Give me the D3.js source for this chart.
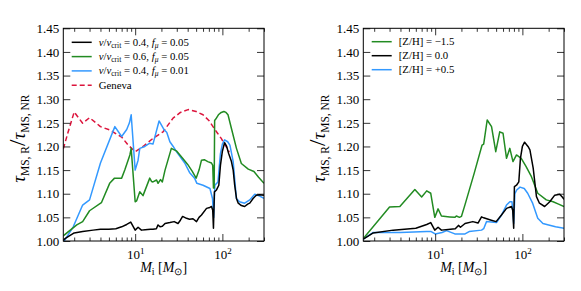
<!DOCTYPE html>
<html><head><meta charset="utf-8">
<script src="https://cdn.jsdelivr.net/npm/d3@7"></script>
<style>
body{margin:0;background:#fff;}
svg text{font-family:"Liberation Serif","Times New Roman",serif !important;fill:#000;}
</style></head>
<body><svg id="chart" width="581" height="291"></svg>
<script>
// ---------- DATA ----------
const xTicksMajor = [10, 100];
const xTicksMinor = [2,3,4,5,6,7,8,9,20,30,40,50,60,70,80,90,200,300];
const yTicks = [1.00,1.05,1.10,1.15,1.20,1.25,1.30,1.35,1.40,1.45];

// Left panel
const leftBlackM = [1.5,1.6,2.0,2.5,3.3,4.0,5.0,6.0,7.0,8.0,8.9,10.0,10.8,11.8,13,15,16,17.5,18.3,19.3,20.5,22,25,28,31,33,35,38.8,42,46,50.5,54,57.6,65.8,71.8,75,77.5,79,81,85.6,91,95,100,106,112,118,127,133,138,145,152,165,180,195,206,225,245,265,300];
const leftBlackV = [1.002,1.006,1.017,1.020,1.023,1.025,1.025,1.026,1.030,1.035,1.040,1.023,1.029,1.023,1.024,1.025,1.025,1.026,1.034,1.030,1.031,1.037,1.039,1.041,1.037,1.044,1.052,1.048,1.046,1.047,1.041,1.050,1.055,1.069,1.071,1.073,1.065,1.027,1.104,1.108,1.118,1.160,1.190,1.208,1.200,1.185,1.168,1.150,1.120,1.090,1.080,1.075,1.073,1.078,1.080,1.090,1.097,1.098,1.097];

const leftGreenM = [1.5,2.14,2.5,3.0,4.1,5.1,5.8,7.0,7.6,8.7,9.0,10.0,10.4,11.3,12.3,14.7,15.4,16.0,17.6,18.3,19.5,20.5,22,26,30,35,40,45,50,54,57.6,62,68,75,77.5,79,80.5,81.5,84,90,97,104,110,116,127,145,165,198,230,260,300];
const leftGreenV = [1.011,1.034,1.041,1.064,1.081,1.122,1.133,1.133,1.150,1.182,1.196,1.083,1.085,1.104,1.096,1.133,1.126,1.125,1.129,1.122,1.130,1.125,1.150,1.196,1.190,1.175,1.162,1.148,1.133,1.150,1.171,1.172,1.168,1.165,1.160,1.112,1.112,1.255,1.258,1.267,1.272,1.274,1.272,1.267,1.238,1.196,1.164,1.152,1.147,1.135,1.122];

const leftBlueM = [1.5,1.95,2.5,3.0,4.0,5.85,7.0,8.0,8.6,9.0,10.0,10.8,11.3,12.9,14.7,16,18.8,21.5,23,25,27.3,30,37,42,48,51,60,72,77,79.5,82,84,89,95,100,106,115,122,133,140,145,157,180,206,235,268,300];
const leftBlueV = [0.997,1.030,1.076,1.087,1.165,1.242,1.221,1.236,1.250,1.267,1.150,1.171,1.196,1.200,1.207,1.205,1.254,1.235,1.230,1.210,1.200,1.188,1.165,1.145,1.133,1.122,1.118,1.111,1.090,1.050,1.118,1.120,1.125,1.185,1.205,1.214,1.210,1.203,1.168,1.120,1.090,1.083,1.080,1.087,1.099,1.095,1.090];

const genevaM = [1.5,1.7,2.0,2.5,3.0,4.0,5.1,7.0,8.3,10.0,12.3,16,20.9,27.2,33,40.5,50,60,70,78,88,97,106,116,120];
const genevaV = [1.195,1.230,1.273,1.249,1.261,1.242,1.235,1.220,1.203,1.189,1.200,1.217,1.231,1.260,1.272,1.278,1.274,1.267,1.255,1.242,1.228,1.217,1.205,1.193,1.188];

// Right panel
const rightGreenM = [1.5,3.0,3.94,5.85,7.0,8.0,8.9,9.9,10.8,11.8,14.7,16.8,17.5,19,20,22,28,34.5,36,39.5,44.3,49.5,55,60,65.8,71.8,78,85.6,97,110,127,150,188,225,260,300];
const rightGreenV = [1.005,1.072,1.073,1.109,1.093,1.106,1.101,1.050,1.068,1.053,1.051,1.050,1.053,1.050,1.052,1.077,1.143,1.203,1.205,1.256,1.242,1.189,1.231,1.228,1.175,1.196,1.168,1.182,1.175,1.158,1.136,1.101,1.087,1.083,1.078,1.073];

const rightBlackM = [1.5,1.95,3.3,6.0,8.0,8.9,9.9,10.8,11.8,15,17,18.5,19.5,22,27,31,34,36,44,50,57.6,65.8,75,77.5,79.5,81,85.6,91,95,100,106,116,122,133,145,157,180,206,235,268,290,300];
const rightBlackV = [1.004,1.017,1.023,1.027,1.035,1.039,1.023,1.029,1.023,1.025,1.026,1.033,1.029,1.037,1.041,1.038,1.051,1.049,1.044,1.041,1.055,1.069,1.073,1.065,1.027,1.115,1.118,1.125,1.175,1.200,1.209,1.200,1.193,1.154,1.094,1.080,1.073,1.083,1.097,1.099,1.092,1.088];

const rightBlueM = [1.5,1.95,4,8,9,10,12,13.5,16.8,22,24.5,34,36,38.8,44,50.5,57.6,65.8,71.8,76,79.5,82,86,94,105,115,131,150,172,200,240,300];
const rightBlueV = [1.004,1.018,1.018,1.020,1.020,1.015,1.018,1.022,1.015,1.015,1.020,1.023,1.026,1.041,1.040,1.039,1.055,1.076,1.083,1.083,1.037,1.100,1.108,1.114,1.111,1.101,1.080,1.048,1.037,1.034,1.030,1.027];

const rightLegendLabels = ["−1.5","0.0","+0.5"];

// ---------- STYLE ----------
const COL = {black:"#000000", green:"#228B22", blue:"#3399FF", red:"#DC143C"};
const svg = d3.select("#chart");
const xDomain = [1.5, 300], yDomain = [1.0, 1.45];
const plotTop = 28.3, plotBottom = 241;

function zip(m, v){ return m.map((d,i)=>[d, v[i]]); }

function panel(x0, x1, series, id){
  const x = d3.scaleLog().domain(xDomain).range([x0, x1]);
  const y = d3.scaleLinear().domain(yDomain).range([plotBottom, plotTop]);
  const g = svg.append("g");
  g.append("clipPath").attr("id", id).append("rect")
    .attr("x", x0).attr("y", plotTop).attr("width", x1-x0).attr("height", plotBottom-plotTop);
  const line = d3.line().x(d=>x(d[0])).y(d=>y(d[1]));
  const lg = g.append("g").attr("clip-path", `url(#${id})`);
  series.forEach(s=>{
    lg.append("path").attr("d", line(s.data)).attr("fill","none")
      .attr("stroke", s.color).attr("stroke-width", 1.5)
      .attr("stroke-linejoin","round")
      .attr("stroke-dasharray", s.dash || null);
  });
  const ax = (sel)=>{ sel.select(".domain").remove(); sel.attr("font-family",null); sel.selectAll("line").attr("stroke","#000").attr("stroke-width",0.8); };
  g.append("g").attr("transform",`translate(0,${plotBottom})`)
    .call(d3.axisBottom(x).tickValues(xTicksMinor).tickFormat("").tickSizeInner(-3.5).tickSizeOuter(0)).call(ax);
  const xb = g.append("g").attr("transform",`translate(0,${plotBottom})`)
    .call(d3.axisBottom(x).tickValues(xTicksMajor).tickSizeInner(-7).tickSizeOuter(0).tickPadding(9)).call(ax);
  xb.selectAll("text").each(function(d){
    const t = d3.select(this);
    t.text("").attr("font-size", 13);
    t.append("tspan").text("10");
    t.append("tspan").text(Math.round(Math.log10(d))).attr("font-size", 9).attr("dy", -5);
  });
  g.append("g").attr("transform",`translate(0,${plotTop})`)
    .call(d3.axisTop(x).tickValues(xTicksMinor).tickFormat("").tickSizeInner(-3.5).tickSizeOuter(0)).call(ax);
  g.append("g").attr("transform",`translate(0,${plotTop})`)
    .call(d3.axisTop(x).tickValues(xTicksMajor).tickFormat("").tickSizeInner(-7).tickSizeOuter(0)).call(ax);
  const yl = g.append("g").attr("transform",`translate(${x0},0)`)
    .call(d3.axisLeft(y).tickValues(yTicks).tickFormat(d3.format(".2f")).tickSizeInner(-7).tickSizeOuter(0).tickPadding(4)).call(ax);
  yl.selectAll("text").attr("font-size", 13);
  g.append("g").attr("transform",`translate(${x1},0)`)
    .call(d3.axisRight(y).tickValues(yTicks).tickFormat("").tickSizeInner(-7).tickSizeOuter(0)).call(ax);
  g.append("rect").attr("x",x0).attr("y",plotTop).attr("width",x1-x0).attr("height",plotBottom-plotTop)
    .attr("fill","none").attr("stroke","#000").attr("stroke-width",1);
  const xt = g.append("text").attr("x",(x0+x1)/2).attr("y",272).attr("text-anchor","middle").attr("font-size",14);
  xt.append("tspan").text("M").attr("font-style","italic");
  xt.append("tspan").text("i").attr("font-size",10).attr("dy",3);
  xt.append("tspan").text(" [").attr("dy",-3);
  xt.append("tspan").text("M").attr("font-style","italic");
  xt.append("tspan").text("⊙").attr("font-size",10).attr("dy",3);
  xt.append("tspan").text("]").attr("dy",-3);
  const yt = g.append("text").attr("transform",`translate(${x0-38},${(plotTop+plotBottom)/2 + 4}) rotate(-90)`)
    .attr("text-anchor","middle").attr("font-size",19);
  yt.append("tspan").text("τ").attr("font-style","italic");
  yt.append("tspan").text("MS, R").attr("font-size",11.5).attr("dy",4);
  yt.append("tspan").text("/").attr("dy",-4).attr("font-size",23);
  yt.append("tspan").text("τ").attr("font-style","italic").attr("font-size",19);
  yt.append("tspan").text("MS, NR").attr("font-size",11.5).attr("dy",4);
  return {x, y, g};
}

panel(63.3, 264, [
  {data: zip(genevaM, genevaV), color: COL.red, dash: "5,3"},
  {data: zip(leftBlueM, leftBlueV), color: COL.blue},
  {data: zip(leftGreenM, leftGreenV), color: COL.green},
  {data: zip(leftBlackM, leftBlackV), color: COL.black}
], "clipL");

panel(363.3, 564, [
  {data: zip(rightBlueM, rightBlueV), color: COL.blue},
  {data: zip(rightGreenM, rightGreenV), color: COL.green},
  {data: zip(rightBlackM, rightBlackV), color: COL.black}
], "clipR");

// ---------- LEGENDS ----------
const lfs = 10.8;
function legendRow(g, xl, yv, color, dash){
  g.append("line").attr("x1",xl).attr("x2",xl+20).attr("y1",yv).attr("y2",yv)
    .attr("stroke",color).attr("stroke-width",1.5).attr("stroke-dasharray",dash||null);
  return g.append("text").attr("x",xl+27).attr("y",yv+3.5).attr("font-size",lfs);
}
const legL = svg.append("g");
const rowsL = [["0.4","0.05",COL.black],["0.6","0.05",COL.green],["0.4","0.01",COL.blue]];
rowsL.forEach((r,i)=>{
  const t = legendRow(legL, 71.7, 42.3 + i*14.3, r[2]);
  t.append("tspan").text("v").attr("font-style","italic");
  t.append("tspan").text("/");
  t.append("tspan").text("v").attr("font-style","italic");
  t.append("tspan").text("crit").attr("font-size",7.5).attr("dy",2);
  t.append("tspan").text(" = " + r[0] + ", ").attr("dy",-2);
  t.append("tspan").text("f").attr("font-style","italic");
  t.append("tspan").text("μ").attr("font-style","italic").attr("font-size",7.5).attr("dy",2);
  t.append("tspan").text(" = " + r[1]).attr("dy",-2);
});
legendRow(legL, 71.7, 42.3 + 3*14.3, COL.red, "5,3").text("Geneva");

const legR = svg.append("g");
const colsR = [COL.green, COL.black, COL.blue];
rightLegendLabels.forEach((lab,i)=>{
  const t = legendRow(legR, 371.7, 41.7 + i*14, colsR[i]);
  t.text("[Z/H] = " + lab);
});
</script></body></html>
